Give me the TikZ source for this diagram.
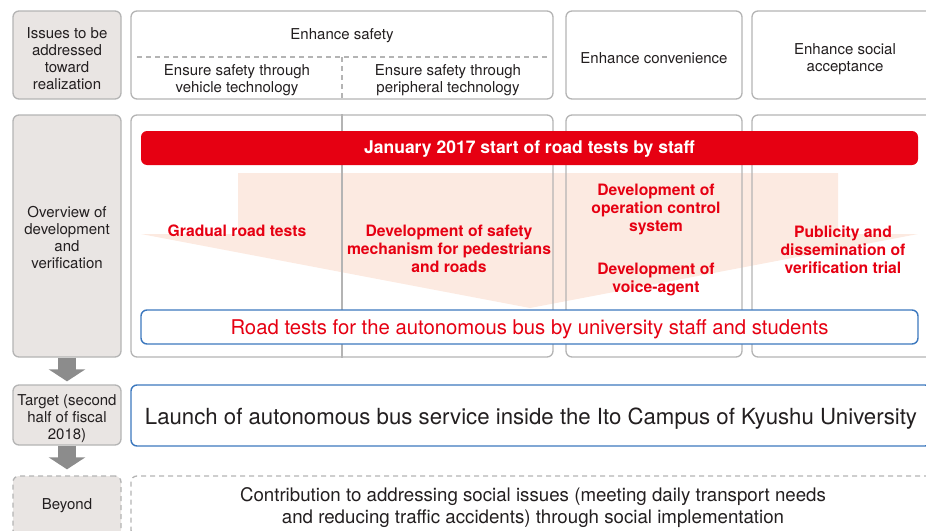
\documentclass[tikz,border=0pt]{standalone}
\usepackage{fontspec}
\setmainfont{TeX Gyre Heros}
\usetikzlibrary{arrows.meta}
\definecolor{kred}{HTML}{E60012}
\definecolor{bgrey}{HTML}{B4B4B4}
\definecolor{lgrey}{HTML}{E9E5E3}
\definecolor{kblue}{HTML}{3C78BE}
\definecolor{peach}{HTML}{FCEAE1}
\definecolor{agrey}{HTML}{8C8C8C}
\definecolor{ktext}{HTML}{231F20}
\tikzset{
  lbox/.style={draw=bgrey, line width=1.3pt, rounded corners=6pt, fill=lgrey, inner sep=0pt},
  wbox/.style={draw=bgrey, line width=1.3pt, rounded corners=6pt, inner sep=0pt},
  plain/.style={text=ktext, align=center, inner sep=0pt, font=\fontsize{15}{17}\selectfont},
  redlab/.style={text=kred, align=center, inner sep=0pt, font=\fontsize{15.7}{18}\selectfont\bfseries},
  redbar/.style={fill=kred, rounded corners=6pt, inner sep=0pt},
  bartext/.style={text=white, inner sep=0pt, font=\fontsize{17.5}{20}\selectfont\bfseries},
  bluebox/.style={draw=kblue, line width=1.4pt, rounded corners=6pt, fill=white, inner sep=0pt},
  dbox/.style={draw=bgrey, line width=1.3pt, dash pattern=on 5pt off 4pt, rounded corners=6pt, inner sep=0pt},
  garrow/.style={draw=agrey, line width=18pt, -{Triangle[width=36pt 0,length=12pt 0]}},
  sep/.style={draw=bgrey, line width=1.1pt},
  dsep/.style={draw=bgrey, line width=1.1pt, dash pattern=on 5pt off 4pt}
}
\begin{document}
\begin{tikzpicture}[x=1pt,y=-1pt]
\useasboundingbox (0,0) rectangle (926,530);
\clip (0,0) rectangle (926,530);
% peach background arrow
\fill[peach] (238,173) -- (838,173) -- (838,234) -- (918,234) -- (530,308) -- (141,234) -- (238,234) -- cycle;
% row 1
\node[lbox, minimum width=108pt, minimum height=88pt] (iss) at (67,55) {};
\node[wbox, fill=white, minimum width=422pt, minimum height=88pt] (saf) at (342,55) {};
\node[wbox, fill=white, minimum width=176pt, minimum height=88pt] (conv) at (654,55) {};
\node[wbox, fill=white, minimum width=186pt, minimum height=88pt] (soc) at (845,55) {};
\node[plain] (issT) at (67,59) {Issues to be\\addressed\\toward\\realization};
\node[plain] (convT) at (654,58) {Enhance convenience};
\node[plain] (socT) at (845,59) {Enhance social\\acceptance};
\node[plain] (safT) at (342,36) {Enhance safety};
\node[plain] (veh) at (237,80) {Ensure safety through\\vehicle technology};
\node[plain] (per) at (448,80) {Ensure safety through\\peripheral technology};
\coordinate (dl) at (137,57);
\coordinate (dr) at (547,57);
\coordinate (dm) at (342,57);
\draw[dsep] (dl) -- (dr);
\draw[dsep] (dm) -- (dm |- saf.south);
% row 2
\node[lbox, minimum width=108pt, minimum height=242pt] (ov) at (67,236) {};
\node[plain] (ovT) at (67,237.5) {Overview of\\development\\and\\verification};
\node[wbox, minimum width=422pt, minimum height=242pt] (saf2) at (342,236) {};
\node[wbox, minimum width=176pt, minimum height=242pt] (conv2) at (654,236) {};
\node[wbox, minimum width=186pt, minimum height=242pt] (soc2) at (845,236) {};
\draw[sep] (saf2.north) -- (saf2.south);
\node[redbar, minimum width=777pt, minimum height=34pt] (jan) at (529.5,148) {};
\node[bartext] (janT) at (529.5,149.5) {January 2017 start of road tests by staff};
\node[redlab] (grad) at (237,231) {Gradual road tests};
\node[redlab] (mech) at (449,249) {Development of safety\\mechanism for pedestrians\\and roads};
\node[redlab] (opc) at (656,209) {Development of\\operation control\\system};
\node[redlab] (voice) at (656,279) {Development of\\voice-agent};
\node[redlab] (pub) at (843,250) {Publicity and\\dissemination of\\verification trial};
\node[bluebox, minimum width=777pt, minimum height=34pt] (road) at (529.5,327) {};
\node[plain, text=kred, font=\fontsize{20.3}{22}\selectfont] (roadT) at (529.5,329) {Road tests for the autonomous bus by university staff and students};
% row 3
\node[lbox, minimum width=108pt, minimum height=60pt] (tg) at (67,415) {};
\node[plain] (tgT) at (67,419) {Target (second\\half of fiscal\\2018)};
\node[bluebox, minimum width=800pt, minimum height=61pt] (launch) at (531,415.5) {};
\node[plain, font=\fontsize{22.2}{24}\selectfont] (launchT) at (531,419) {Launch of autonomous bus service inside the Ito Campus of Kyushu University};
% row 4
\node[dbox, fill=lgrey, minimum width=108pt, minimum height=60pt] (by) at (67,506) {};
\node[plain] (byT) at (67,506) {Beyond};
\node[dbox, minimum width=804pt, minimum height=60pt] (contr) at (533,506) {};
\node[plain, font=\fontsize{18.7}{22}\selectfont] (contrT) at (533,508) {Contribution to addressing social issues (meeting daily transport needs\\and reducing traffic accidents) through social implementation};
% arrows
\draw[garrow] (ov.south) -- ([yshift=3pt]tg.north);
\draw[garrow] (tg.south) -- ([yshift=6pt]by.north);
\end{tikzpicture}
\end{document}
